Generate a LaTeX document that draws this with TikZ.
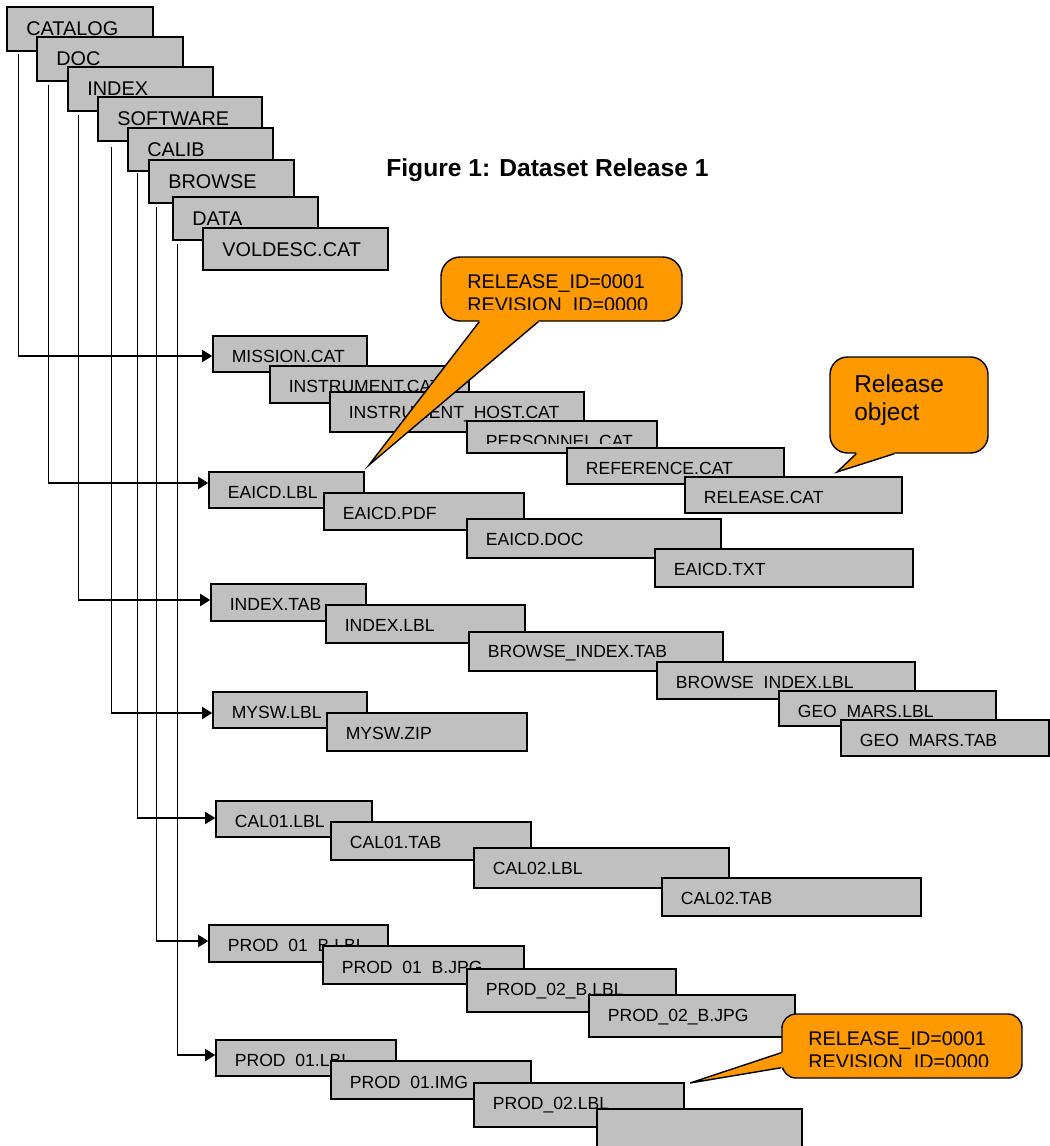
\documentclass[tikz,border=0pt]{standalone}
\usepackage{fontspec}
\setmainfont{Liberation Sans}
\usetikzlibrary{fit,arrows.meta}

\definecolor{boxgray}{RGB}{192,192,192}
\definecolor{noteorange}{RGB}{255,153,0}

\tikzset{
  filebox/.style={rectangle, draw=black, fill=boxgray, line width=0.9pt, inner sep=0pt},
  filetext/.style={anchor=base west, inner sep=0pt, font=\fontsize{10}{12}\selectfont},
  dirtext/.style={anchor=base west, inner sep=0pt, font=\fontsize{11.3}{13.5}\selectfont},
  conn/.style={draw=black, line width=0.8pt},
  arrowed/.style={-{Triangle[length=5.8pt,width=7pt]}},
  note/.style={rectangle, draw=black, fill=noteorange, line width=0.8pt, inner sep=0pt},
  notetext/.style={anchor=base west, inner sep=0pt, font=\fontsize{11.25}{13}\selectfont},
  titletext/.style={anchor=base west, inner sep=0pt, font=\fontsize{14}{17}\selectfont\bfseries},
}

% folder box: name, x1, y1, x2, y2, label
\newcommand\dirBox[6]{%
  \node[filebox, fit={(#2,#3) (#4,#5)}] (#1) {};
  \node[dirtext] (#1-t) at ({#2+19},{#3+28.7}) {#6};}

% file box: [baseline offset], name, x1, y1, x2, y2, label (label clipped to the text frame)
\newcommand\fileBox[7][26.5]{%
  \node[filebox, fit={(#3,#4) (#5,#6)}] (#2) {};
  \begin{scope}
    \clip (#3,#4) rectangle (#5,{#6-10});
    \node[filetext] (#2-t) at ({#3+18.5},{#4+#1}) {#7};
  \end{scope}}

\begin{document}
\begin{tikzpicture}[x=0.02cm, y=-0.02cm]
\useasboundingbox (0,0) rectangle (1050,1146);
\clip (0,0) rectangle (1050,1146);

% title
\node[titletext] (title) at (386,176) {Figure 1: Dataset Release 1};

% directory stack
\dirBox{catalog}{7}{7}{153}{51}{CATALOG}
\dirBox{doc}{37}{37}{183}{81}{DOC}
\dirBox{index}{68}{67}{213}{111}{INDEX}
\dirBox{software}{98}{97}{262}{141}{SOFTWARE}
\dirBox{calib}{128}{128}{273}{171}{CALIB}
\dirBox{browse}{149}{160}{294}{203}{BROWSE}
\dirBox{data}{173}{197}{318}{240}{DATA}
\dirBox{voldesc}{203}{228}{388}{270}{VOLDESC.CAT}

% CATALOG contents
\fileBox{mission}{213}{336}{367}{372}{MISSION.CAT}
\fileBox{instr}{270}{366}{469}{403}{INSTRUMENT.CAT}
\fileBox{host}{330}{392}{584}{432}{INSTRUMENT\_HOST.CAT}
\fileBox{personnel}{467}{421}{657}{453}{PERSONNEL.CAT}
\fileBox{reference}{567}{448}{784}{484}{REFERENCE.CAT}
\fileBox{releasecat}{685}{477}{902}{513}{RELEASE.CAT}

% DOC contents
\fileBox{eaicdlbl}{209}{472}{364}{508}{EAICD.LBL}
\fileBox{eaicdpdf}{324}{493}{524}{530}{EAICD.PDF}
\fileBox{eaicddoc}{467}{519}{721}{558}{EAICD.DOC}
\fileBox{eaicdtxt}{655}{549}{913}{587}{EAICD.TXT}

% INDEX contents
\fileBox{indextab}{211}{584}{366}{621}{INDEX.TAB}
\fileBox{indexlbl}{326}{605}{525}{643}{INDEX.LBL}
\fileBox[25.5]{bitab}{469}{632}{723}{671}{BROWSE\_INDEX.TAB}
\fileBox{bilbl}{657}{662}{915}{699}{BROWSE\_INDEX.LBL}
\fileBox{geolbl}{779}{691}{996}{726}{GEO\_MARS.LBL}
\fileBox{geotab}{841}{720}{1049}{756}{GEO\_MARS.TAB}

% SOFTWARE contents
\fileBox{myswlbl}{213}{692}{367}{728}{MYSW.LBL}
\fileBox{myswzip}{327}{713}{527}{751}{MYSW.ZIP}

% CALIB contents
\fileBox{calonelbl}{216}{801}{372}{837}{CAL01.LBL}
\fileBox{calonetab}{331}{822}{531}{860}{CAL01.TAB}
\fileBox{caltwolbl}{474}{848}{729}{888}{CAL02.LBL}
\fileBox{caltwotab}{662}{878}{921}{916}{CAL02.TAB}

% BROWSE contents
\fileBox{pbonelbl}{209}{925}{388}{962}{PROD\_01\_B.LBL}
\fileBox[27.5]{pbonejpg}{323}{946}{524}{984}{PROD\_01\_B.JPG}
\fileBox{pbtwolbl}{467}{969}{676}{1012}{PROD\_02\_B.LBL}
\fileBox{pbtwojpg}{589}{995}{795}{1037}{PROD\_02\_B.JPG}

% DATA contents
\fileBox{ponelbl}{216}{1040}{396}{1076}{PROD\_01.LBL}
\fileBox[27.5]{poneimg}{331}{1061}{531}{1099}{PROD\_01.IMG}
\fileBox{ptwolbl}{474}{1083}{684}{1127}{PROD\_02.LBL}
\fileBox{ptwoimg}{597}{1109}{802}{1170}{}

% tree connectors from each directory to its first file
\draw[conn, arrowed] ([shift={(12,2)}]catalog.south west) |- ([shift={(0,2)}]mission.west);
\draw[conn, arrowed] ([shift={(12,3)}]doc.south west) |- ([shift={(0,-7)}]eaicdlbl.west);
\draw[conn, arrowed] ([shift={(11,3)}]index.south west) |- ([shift={(0,-2.5)}]indextab.west);
\draw[conn, arrowed] ([shift={(14,5)}]software.south west) |- ([shift={(0,3)}]myswlbl.west);
\draw[conn, arrowed] ([shift={(10,1)}]calib.south west) |- ([shift={(0,-1)}]calonelbl.west);
\draw[conn, arrowed] ([shift={(8,3)}]browse.south west) |- ([shift={(0,-2.5)}]pbonelbl.west);
\draw[conn, arrowed] ([shift={(5,3)}]data.south west) |- ([shift={(0,-3)}]ponelbl.west);

% callout: release identifiers (top)
\node[note, rounded corners=11pt, fit={(441,257) (682,321)}] (noteA) {};
\coordinate (noteAtip) at (369,465);
\fill[noteorange] ([shift={(39,-2)}]noteA.south west) -- ([shift={(39,0)}]noteA.south west)
  -- (noteAtip) -- ([shift={(98,0)}]noteA.south west) -- ([shift={(98,-2)}]noteA.south west) -- cycle;
\draw[line width=0.8pt, line join=miter] ([shift={(39,0)}]noteA.south west) -- (noteAtip) -- ([shift={(98,0)}]noteA.south west);
\begin{scope}
  \clip (441,257) rectangle (682,309);
  \node[notetext] (noteA-t) at (467,288) {\begin{tabular}[t]{@{}l@{}}RELEASE\_ID=0001\\[0.4pt]REVISION\_ID=0000\end{tabular}};
\end{scope}

% callout: release object
\node[note, rounded corners=10pt, fit={(830,357) (988,453)}] (noteB) {};
\coordinate (noteBtip) at (837,472);
\fill[noteorange] ([shift={(27,-2)}]noteB.south west) -- ([shift={(27,0)}]noteB.south west)
  -- (noteBtip) -- ([shift={(65,0)}]noteB.south west) -- ([shift={(65,-2)}]noteB.south west) -- cycle;
\draw[line width=0.8pt, line join=miter] ([shift={(27,0)}]noteB.south west) -- (noteBtip) -- ([shift={(65,0)}]noteB.south west);
\node[anchor=base west, inner sep=0pt, font=\fontsize{13.9}{16.4}\selectfont] (noteB-t) at (854,392)
  {\begin{tabular}[t]{@{}l@{}}Release\\object\end{tabular}};

% callout: release identifiers (bottom)
\node[note, rounded corners=8pt, fit={(782,1014) (1022,1078)}] (noteC) {};
\coordinate (noteCtip) at (690,1083);
\fill[noteorange] ([shift={(2,-26)}]noteC.south west) -- ([shift={(0,-26)}]noteC.south west)
  -- (noteCtip) -- ([shift={(0,-11)}]noteC.south west) -- ([shift={(2,-11)}]noteC.south west) -- cycle;
\draw[line width=0.8pt, line join=miter] ([shift={(0,-26)}]noteC.south west) -- (noteCtip) -- ([shift={(0,-11)}]noteC.south west);
\begin{scope}
  \clip (782,1014) rectangle (1022,1066);
  \node[notetext] (noteC-t) at (808,1045) {\begin{tabular}[t]{@{}l@{}}RELEASE\_ID=0001\\[0.4pt]REVISION\_ID=0000\end{tabular}};
\end{scope}

\end{tikzpicture}
\end{document}
